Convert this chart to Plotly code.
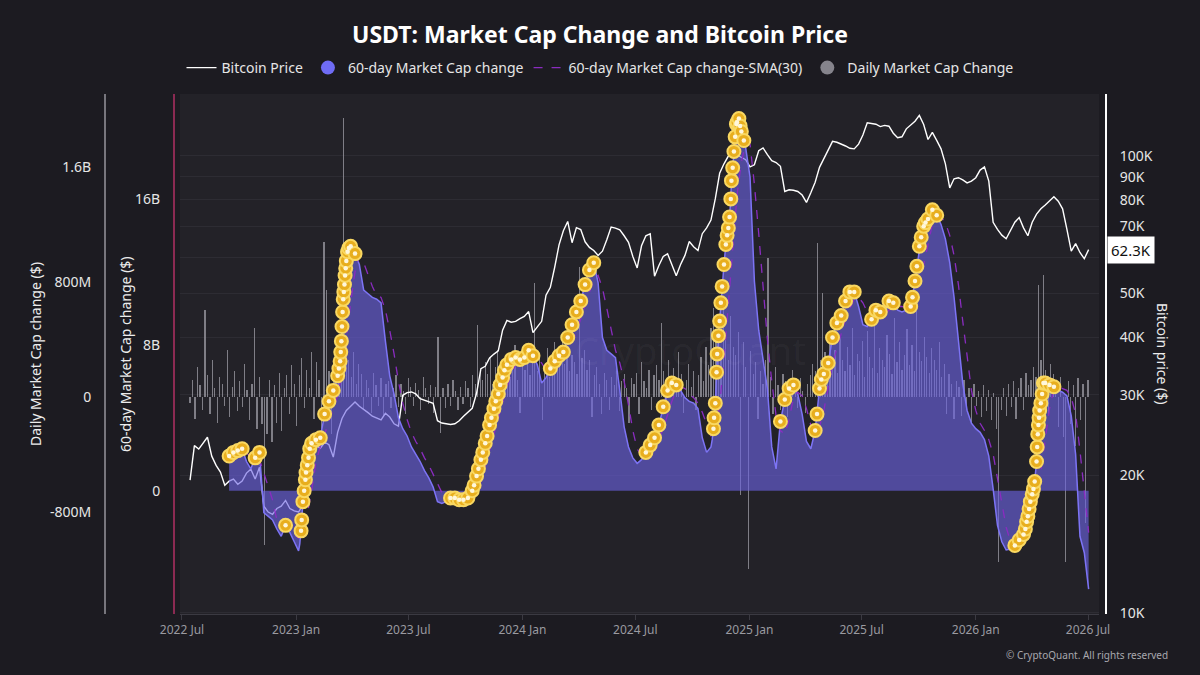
import numpy as np
import pandas as pd
import plotly.graph_objects as go

# ---------------- DATA ----------------
# Weekly grid (Thursdays) for the price, 60-day change and its SMA(30)
week_dates = pd.date_range("2022-07-14", periods=208, freq="7D")

btc_price_k = [
    19.5, 23.2, 22.8, 23.5, 24.2, 22.0, 21.0, 20.3, 19.0, 19.4,
    19.6, 19.1, 19.4, 20.2, 20.6, 19.6, 20.8, 17.1, 16.6, 16.4,
    16.9, 17.1, 17.6, 16.9, 16.7, 16.6, 17.2, 20.9, 22.8, 23.2,
    22.9, 23.6, 23.3, 21.9, 24.8, 26.6, 27.7, 28.3, 28.9, 28.3,
    27.9, 27.4, 26.9, 26.6, 26.4, 27.3, 26.8, 25.9, 25.6, 29.9,
    30.3, 30.4, 30.1, 29.4, 29.2, 29.0, 28.7, 26.3, 26.0, 25.9,
    25.8, 25.9, 26.3, 26.9, 27.4, 28.0, 30.2, 34.2, 34.6, 36.1,
    36.8, 37.4, 41.5, 43.6, 43.2, 43.4, 44.0, 44.5, 45.6, 41.0,
    42.2, 43.4, 49.5, 51.5, 57.0, 63.8, 68.5, 71.8, 64.5, 69.6,
    68.9, 64.8, 63.0, 62.0, 60.5, 61.8, 65.5, 69.8, 69.4, 68.8,
    66.8, 64.6, 60.2, 56.8, 63.5, 66.8, 67.5, 54.5, 57.5, 60.2,
    61.0, 57.5, 54.6, 57.8, 60.5, 64.9, 63.2, 62.0, 67.5, 69.5,
    72.3, 80.5, 91.5, 96.0, 99.8, 101.5, 100.3, 99.0, 98.0, 94.5,
    95.5, 102.5, 104.0, 100.5, 97.5, 96.6, 94.8, 83.5, 84.2, 84.0,
    83.5, 82.0, 79.0, 83.0, 87.5, 94.3, 98.5, 102.5, 107.5, 107.0,
    106.2, 105.0, 103.8, 103.5, 106.0, 111.0, 118.0, 117.8, 117.2, 115.8,
    116.5, 116.0, 112.0, 109.5, 110.0, 114.5, 116.5, 119.0, 122.5, 117.0,
    108.5, 112.5, 108.0, 103.5, 96.0, 85.0, 89.0, 89.5, 88.5, 87.2,
    88.0, 89.5, 93.0, 94.5, 88.0, 71.5, 69.0, 67.0, 65.8, 68.5,
    71.5, 73.2, 69.5, 66.8, 71.5, 74.5, 76.5, 78.0, 79.8, 81.3,
    79.5, 76.5, 69.0, 61.8, 64.2, 61.4, 59.5, 62.3,
]

# 60-day market cap change (billions $), weekly
chg60_b = [None] * 9 + [
    1.9, 2.1, 2.2, 2.3, 1.6, 1.2, 1.8, 2.1, -1.2, -1.4, -1.6,
    -2.1, -2.5, -1.9, -2.3, -2.8, -3.3, -0.6, 1.4, 2.6, 2.8,
    2.9, 4.2, 4.9, 5.5, 6.3, 9.0, 12.6, 13.4, 13.0, 12.4,
    11.0, 10.8, 10.6, 10.5, 10.3, 8.2, 6.3, 5.3, 4.0, 3.4,
    3.0, 2.4, 2.0, 1.6, 1.1, 0.7, 0.2, -0.6, -0.7, -0.6,
    -0.4, -0.4, -0.5, -0.5, -0.4, 0.0, 0.8, 1.7, 2.6, 3.6,
    4.5, 5.3, 6.2, 6.9, 7.2, 7.3, 7.2, 7.3, 7.7, 7.4,
    6.9, 5.9, 6.2, 6.7, 7.1, 7.4, 7.6, 8.4, 9.1, 9.8,
    10.4, 11.3, 12.1, 12.5, 11.4, 8.4, 7.7, 7.5, 7.3, 5.5,
    3.5, 2.4, 1.8, 1.5, 1.7, 2.1, 2.5, 2.9, 3.6, 4.6,
    5.5, 5.9, 5.8, 5.5, 5.1, 4.9, 4.8, 4.5, 2.9, 2.1,
    2.4, 4.8, 9.3, 12.4, 14.4, 17.7, 20.2, 19.7, 18.8, 17.2,
    11.5, 8.8, 7.2, 5.6, 2.4, 1.2, 3.8, 5.0, 5.6, 5.8,
    5.3, 4.2, 2.7, 2.3, 3.3, 5.6, 6.4, 7.0, 8.4, 9.2,
    9.6, 10.4, 10.9, 10.9, 10.1, 9.1, 9.0, 9.4, 9.9, 9.8,
    9.6, 10.4, 10.3, 9.9, 9.8, 9.9, 10.1, 11.5, 13.4, 14.5,
    14.9, 15.4, 15.1, 14.6, 13.8, 12.5, 10.6, 8.1, 5.9, 4.4,
    3.7, 3.4, 3.2, 2.8, 1.9, 0.1, -1.9, -2.8, -3.25, -3.2,
    -3.0, -2.7, -2.4, -1.4, -0.2, 1.6, 4.8, 5.9, 5.8, 5.7,
    5.5, 5.4, 5.2, 4.1, 2.0, -2.5, -3.4, -5.4,
]

# extra readings of the 60-day change inside the steep runs
chg60_extra_dates = [
    "2023-01-07", "2023-01-09", "2023-01-10", "2023-01-14", "2023-01-16", "2023-01-17", "2023-01-21", "2023-01-23",
    "2023-03-11", "2023-03-13", "2023-03-14", "2023-03-15", "2023-03-17", "2023-03-18", "2023-03-19", "2023-03-20",
    "2023-03-21", "2023-03-22", "2023-03-25", "2023-03-27",
    "2023-10-15", "2023-10-22", "2023-10-29", "2023-11-05", "2023-11-12", "2023-11-19", "2023-11-26", "2023-12-03",
    "2024-11-02", "2024-11-04", "2024-11-05", "2024-11-09", "2024-11-10", "2024-11-12", "2024-11-16", "2024-11-18",
    "2024-11-24", "2024-11-26", "2024-11-30", "2024-12-02", "2024-12-03", "2024-12-07", "2024-12-09", "2024-12-11",
    "2024-12-15", "2024-12-17", "2024-12-23", "2024-12-25",
    "2025-04-20", "2025-04-27",
    "2025-09-21", "2025-09-28", "2025-10-05", "2025-10-12",
    "2026-03-22", "2026-03-24", "2026-03-28", "2026-03-30", "2026-04-04", "2026-04-06", "2026-04-10", "2026-04-11",
    "2026-04-12", "2026-04-13", "2026-04-14", "2026-04-18", "2026-04-20",
]
chg60_extra_b = [
    -2.9, -2.2, -1.6, 0.0, 0.6, 1.0, 1.8, 2.3,
    6.7, 7.1, 7.6, 8.2, 9.8, 10.5, 10.9, 11.3,
    11.8, 12.2, 13.1, 13.3,
    0.3, 1.2, 2.1, 3.0, 4.0, 4.9, 5.8, 6.6,
    2.8, 3.4, 4.0, 6.5, 7.5, 8.5, 10.3, 11.2,
    13.5, 14.0, 15.0, 16.0, 17.0, 18.6, 19.4, 20.1,
    20.4, 20.0, 19.2, 18.9,
    4.2, 6.1,
    10.6, 12.3, 13.9, 14.7,
    -2.1, -1.7, -1.0, -0.6, 0.1, 0.5, 2.4, 3.1,
    3.6, 4.0, 4.4, 5.3, 5.9,
]

# SMA(30) of the 60-day change (billions $), weekly
sma30_b = [None] * 12 + [
    2.1, 2.1, 1.8, 1.7, 1.7, 1.0, 0.3, -0.5,
    -1.6, -1.9, -2.0, -2.2, -2.4, -2.6, -2.3, -1.3, 0.0, 1.6,
    2.4, 3.1, 3.7, 4.4, 5.2, 6.4, 8.4, 10.3, 12.0, 12.9,
    12.5, 11.8, 11.2, 10.7, 10.6, 9.9, 8.8, 7.5, 6.0, 4.8,
    3.9, 3.2, 2.7, 2.3, 1.8, 1.4, 0.9, 0.4, -0.1, -0.4,
    -0.6, -0.5, -0.5, -0.5, -0.5, -0.4, 0.0, 0.5, 1.3, 2.2,
    3.1, 4.0, 4.9, 5.7, 6.4, 6.9, 7.2, 7.3, 7.4, 7.4,
    7.3, 7.0, 6.6, 6.4, 6.5, 6.9, 7.2, 7.6, 8.1, 8.7,
    9.4, 10.2, 10.9, 11.6, 11.8, 11.1, 10.0, 8.8, 7.7, 7.0,
    6.0, 4.7, 3.3, 2.3, 1.9, 1.8, 2.0, 2.3, 2.8, 3.4,
    4.2, 4.9, 5.5, 5.7, 5.6, 5.3, 5.1, 4.8, 4.3, 3.6,
    3.0, 3.1, 4.7, 7.2, 10.2, 13.5, 16.2, 18.0, 19.1, 19.0,
    16.8, 14.1, 11.2, 8.3, 6.0, 4.1, 3.3, 3.1, 3.9, 5.1,
    5.4, 5.2, 4.5, 3.6, 3.1, 3.5, 4.4, 5.6, 6.9, 7.8,
    8.6, 9.4, 10.0, 10.5, 10.6, 10.3, 9.8, 9.4, 9.4, 9.5,
    9.7, 9.9, 10.0, 10.1, 10.1, 10.0, 9.9, 10.3, 11.2, 12.4,
    13.6, 14.6, 15.0, 15.0, 14.7, 14.0, 12.9, 11.3, 9.3, 7.3,
    5.5, 4.4, 3.7, 3.3, 2.8, 2.0, 0.7, -0.7, -2.0, -2.8,
    -3.1, -3.0, -2.8, -2.4, -1.7, -0.6, 1.2, 3.0, 4.5, 5.6,
    5.7, 5.6, 5.5, 5.1, 4.2, 2.2, 0.1, -2.3,
]

# Daily market cap change (millions $), sampled every 4 days
daily_dates = pd.date_range("2022-07-14", periods=363, freq="4D")
daily_change_m = [
    -40, 120, -150, 210, 80, -90, 605, 150, -120, 260,
    60, -180, 140, 90, -60, 330, -140, 70, 180, -100,
    110, -70, 230, 50, -160, 90, 480, -220, 140, -190,
    -1030, -260, 120, -310, 80, -180, 170, -240, 60, 150,
    -120, 220, 90, -200, 150, 270, -80, 190, 60, 310,
    -150, 240, 120, -220, 1079, 745, 180, -260, 210, 330,
    150, 420, 1942, 380, 260, 140, 310, 90, 230, 160,
    -90, 120, 60, -110, 170, 80, -60, 130, -140, 90,
    110, -80, 60, 150, -70, 90, 40, -120, 130, 70,
    -60, 100, 50, -90, 140, 60, -50, 80, -110, 70,
    418, -250, 60, -80, 90, -60, 120, 40, -90, 70,
    -50, 110, 60, -70, 150, 90, 500, 180, 120, 240,
    160, 280, 90, 210, 330, -80, 250, 180, 300, 140,
    220, 360, 120, -110, 260, 190, 310, 150, 240, 790,
    180, 280, -160, 220, 340, 140, 260, 380, 200, 310,
    420, 230, 350, 180, 290, 240, 160, 905, 270, 330,
    190, 260, -140, 150, 210, 90, -120, 170, 120, -90,
    140, 80, 200, -100, 110, 160, 60, -180, 130, 90,
    170, -120, 240, 110, 60, 190, -90, 150, 220, 120,
    515, 180, -70, 260, 140, 200, 90, 310, 160, -110,
    120, 230, 70, 180, -90, 150, 280, 110, 350, 220,
    480, 620, 390, 540, 300, 680, 420, 260, 560, 350,
    290, 450, -680, 380, 210, -1200, 320, 160, 240, -150,
    180, 90, 260, 967, 140, -120, 210, 80, -90, 160,
    110, -140, 70, 190, 60, -80, 130, 40, -110, 90,
    150, 230, 180, 1070, 260, 724, 310, 190, 380, 240,
    330, 170, 420, 260, 180, 350, 220, 480, 150, 300,
    250, 390, 140, 460, 280, 200, 520, 170, 340, 260,
    210, 430, 300, 160, 550, 240, 380, 190, 290, 470,
    220, 360, 180, 600, 310, 250, 420, 280, 170, 340,
    260, 190, 380, 140, 230, -120, 160, 90, -150, 110,
    70, -130, 120, -90, 60, -180, 90, -60, 40, -140,
    80, -100, 50, -160, 30, -220, -1150, -90, 60, -130,
    90, -70, 110, -150, 60, 130, -90, 170, 80, 120,
    210, 140, 780, 260, 850, 190, -120, 230, 160, 90,
    -210, 140, -280, -1150, 110, -190, 80, -340, 130, -160,
    90, -880, 120,
]

# Axis ticks
x_tick_dates = ["2022-07-01", "2023-01-01", "2023-07-01", "2024-01-01", "2024-07-01",
                "2025-01-01", "2025-07-01", "2026-01-01", "2026-07-01"]
x_tick_text = ["2022 Jul", "2023 Jan", "2023 Jul", "2024 Jan", "2024 Jul",
               "2025 Jan", "2025 Jul", "2026 Jan", "2026 Jul"]
daily_tick_vals = [-8e8, 0, 8e8, 1.6e9]
daily_tick_text = ["-800M", "0", "800M", "1.6B"]
chg60_tick_vals = [0, 8e9, 16e9]
chg60_tick_text = ["0", "8B", "16B"]
price_tick_vals = [10000, 20000, 30000, 40000, 50000, 60000, 70000, 80000, 90000, 100000]
# the 60K label sits under the last-price tag in the chart
price_tick_text = ["10K", "20K", "30K", "40K", "50K", "", "70K", "80K", "90K", "100K"]

# ---------------- PREP ----------------
s60 = pd.concat([
    pd.Series(chg60_b, index=week_dates, dtype="float64").dropna(),
    pd.Series(chg60_extra_b, index=pd.to_datetime(chg60_extra_dates), dtype="float64"),
]).sort_index()
sma = pd.Series(sma30_b, index=week_dates, dtype="float64").dropna()

t60 = s60.index.values.astype("datetime64[s]").astype("int64")
tsma = sma.index.values.astype("datetime64[s]").astype("int64")
sma_at = np.interp(t60, tsma, sma.values)
coin_mask = (s60.values >= sma_at) | (t60 < tsma[0])
coins = s60[coin_mask]

price = pd.Series(btc_price_k, index=week_dates) * 1000
daily = pd.Series(daily_change_m, index=daily_dates) * 1e6

FONT = "Noto Sans"
PAGE_BG = "#1c1b21"
PLOT_BG = "#232228"

fig = go.Figure()

# Daily bars (base axis)
fig.add_trace(go.Bar(
    x=daily.index, y=daily.values, yaxis="y",
    marker=dict(color="rgba(150,150,158,0.8)", line=dict(width=0)),
    width=2 * 86400000, showlegend=False, name="Daily Market Cap Change",
))

# Bitcoin price (log, right)
fig.add_trace(go.Scatter(
    x=price.index, y=price.values, yaxis="y2", mode="lines",
    line=dict(color="#ffffff", width=1.4), name="Bitcoin Price", legendrank=1,
))

# 60-day change area
fig.add_trace(go.Scatter(
    x=s60.index, y=s60.values * 1e9, yaxis="y3", mode="lines",
    line=dict(color="#7d74f5", width=1.5), fill="tozeroy",
    fillcolor="rgba(108,98,228,0.62)", showlegend=False, name="60-day Market Cap change",
))

# SMA(30)
fig.add_trace(go.Scatter(
    x=sma.index, y=sma.values * 1e9, yaxis="y3", mode="lines",
    line=dict(color="#8a2cc0", width=1.3, dash="dash"),
    name="60-day Market Cap change-SMA(30)", legendrank=3,
))

# Coin markers where the 60-day change runs above its SMA
fig.add_trace(go.Scatter(
    x=coins.index, y=coins.values * 1e9, yaxis="y3", mode="markers",
    marker=dict(size=13, color="#e8ae1e", line=dict(color="#f9d862", width=2)),
    showlegend=False, hoverinfo="skip",
))
fig.add_trace(go.Scatter(
    x=coins.index, y=coins.values * 1e9, yaxis="y3", mode="markers",
    marker=dict(size=4.5, color="#fff7dc"), showlegend=False, hoverinfo="skip",
))

# Legend-only entries
fig.add_trace(go.Scatter(
    x=[None], y=[None], yaxis="y3", mode="markers",
    marker=dict(size=14, color="#6f6cf5"), name="60-day Market Cap change", legendrank=2,
))
fig.add_trace(go.Scatter(
    x=[None], y=[None], yaxis="y3", mode="markers",
    marker=dict(size=14, color="#85848c"), name="Daily Market Cap Change", legendrank=4,
))

W, H = 1200, 675
top, bottom = 94, 614

def px_x(p):
    return p / W

fig.update_layout(
    width=W, height=H, autosize=False,
    paper_bgcolor=PAGE_BG, plot_bgcolor=PLOT_BG,
    margin=dict(l=0, r=0, t=top, b=H - bottom, autoexpand=False),
    font=dict(family=FONT, color="#e6e6e6"),
    title=dict(text="<b>USDT: Market Cap Change and Bitcoin Price</b>", x=0.5, xanchor="center",
               y=1 - 35 / H, yanchor="middle", font=dict(size=23, color="#ffffff", family=FONT)),
    legend=dict(orientation="h", x=0.5, xanchor="center", y=(bottom - 68) / (bottom - top), yanchor="middle",
                font=dict(size=14, color="#e6e6e6", family=FONT), bgcolor="rgba(0,0,0,0)",
                itemsizing="trace", traceorder="normal"),
    bargap=0,
    showlegend=True,
    xaxis=dict(
        domain=[px_x(180), px_x(1099)], type="date", automargin=False,
        range=["2022-06-27 19:00", "2026-07-18 17:00"],
        tickvals=x_tick_dates, ticktext=x_tick_text,
        tickfont=dict(size=12, color="#9a9aa0"),
        showgrid=False, zeroline=False, showline=True, linecolor="#3b3a42", linewidth=1,
        ticks="outside", ticklen=5, tickcolor="#3b3a42", anchor="y",
    ),
    yaxis=dict(
        anchor="free", position=px_x(105), side="left", automargin=False,
        range=[-1.51e9, 2.108e9], tickvals=daily_tick_vals, ticktext=daily_tick_text,
        tickfont=dict(size=14, color="#e6e6e6"),
        showline=True, linecolor="#77767d", linewidth=2, showgrid=False, zeroline=False,
        ticks="", ticklabelstandoff=10,
    ),
    yaxis2=dict(
        overlaying="y", anchor="free", position=px_x(1106), side="right", type="log", automargin=False,
        range=[3.997, 5.135], tickvals=price_tick_vals, ticktext=price_tick_text,
        tickfont=dict(size=14, color="#e6e6e6"),
        showline=True, linecolor="#ffffff", linewidth=2,
        showgrid=True, gridcolor="#2d2c33", gridwidth=1, zeroline=False,
        ticks="", ticklabelstandoff=10,
    ),
    yaxis3=dict(
        overlaying="y", anchor="free", position=px_x(174), side="left", automargin=False,
        range=[-6.76e9, 21.75e9], tickvals=chg60_tick_vals, ticktext=chg60_tick_text,
        tickfont=dict(size=14, color="#e6e6e6"),
        showline=True, linecolor="#8a2a52", linewidth=2, showgrid=False, zeroline=False,
        ticks="", ticklabelstandoff=10,
    ),
)

annotations = [
    dict(text="Daily Market Cap change ($)", xref="paper", yref="paper", x=px_x(35), y=0.5,
         xanchor="center", yanchor="middle",
         textangle=-90, showarrow=False, font=dict(size=14, color="#ececec")),
    dict(text="60-day Market Cap change ($)", xref="paper", yref="paper", x=px_x(125), y=0.5,
         xanchor="center", yanchor="middle",
         textangle=-90, showarrow=False, font=dict(size=14, color="#ececec")),
    dict(text="Bitcoin price ($)", xref="paper", yref="paper", x=px_x(1163), y=0.5,
         xanchor="center", yanchor="middle",
         textangle=90, showarrow=False, font=dict(size=14, color="#ececec")),
    dict(text=f"{btc_price_k[-1]:.1f}K", xref="paper", yref="y2", x=px_x(1107),
         y=float(np.log10(btc_price_k[-1] * 1000)), xanchor="left", yanchor="middle",
         showarrow=False, bgcolor="#ffffff", borderpad=3,
         font=dict(size=15, color="#111111")),
    dict(text="© CryptoQuant. All rights reserved", xref="paper", yref="paper",
         x=px_x(1170), y=(bottom - 655) / (bottom - top), xanchor="right", yanchor="middle",
         showarrow=False, font=dict(size=10, color="#a8a8ae")),
    dict(text="CryptoQuant", xref="paper", yref="paper", x=px_x(690), y=(bottom - 350) / (bottom - top),
         showarrow=False, font=dict(size=38, color="rgba(255,255,255,0.045)")),
]
fig.update_layout(annotations=annotations)

fig.write_html(
    "out.html",
    config={"displayModeBar": False},
    post_script="document.body.style.margin='0';document.body.style.overflow='hidden';"
                "document.body.style.background='" + PAGE_BG + "';",
)
